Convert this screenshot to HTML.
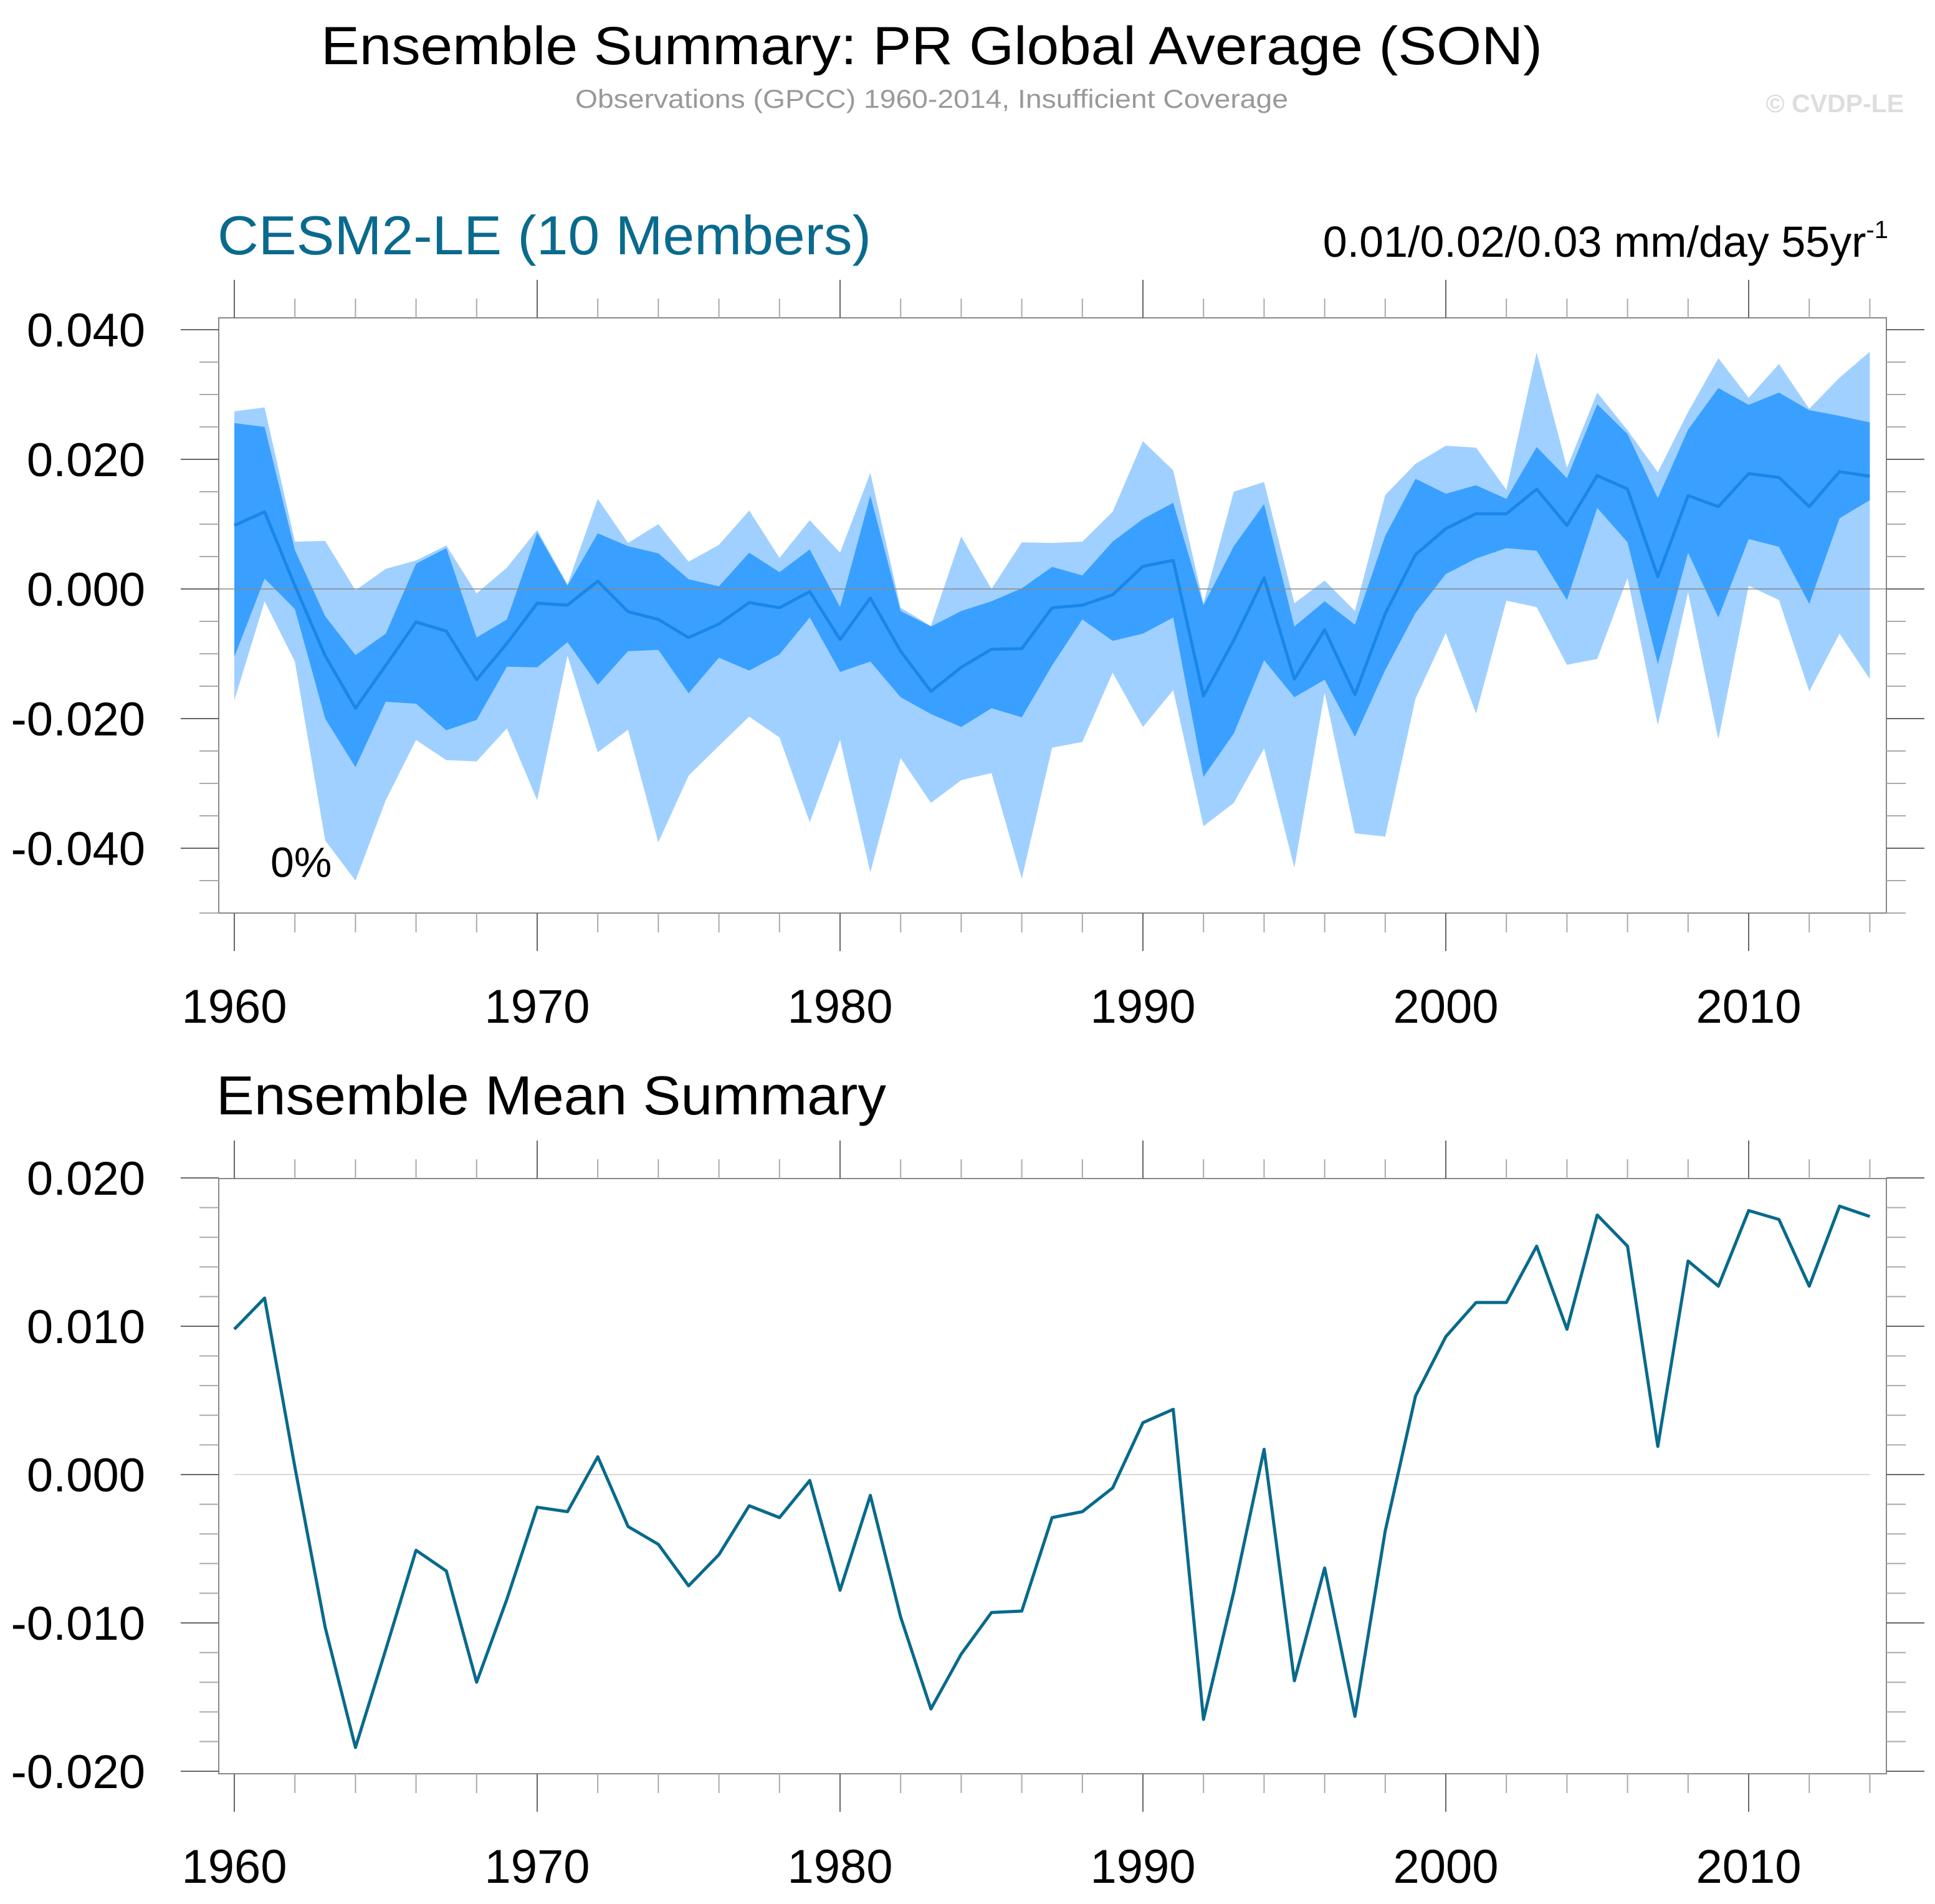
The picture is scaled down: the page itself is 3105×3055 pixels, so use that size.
<!DOCTYPE html>
<html><head><meta charset="utf-8"><style>
html,body{margin:0;padding:0;background:#fff;}
svg{display:block;font-family:"Liberation Sans",Arial,sans-serif;}
</style></head><body>
<svg id="chart" width="3105" height="3055" viewBox="0 0 3105 3055" xmlns="http://www.w3.org/2000/svg">
<text x="1495" y="103" font-size="86" text-anchor="middle" textLength="1960" lengthAdjust="spacingAndGlyphs">Ensemble Summary: PR Global Average (SON)</text>
<text x="1495" y="173" font-size="42" fill="#999" text-anchor="middle" textLength="1144" lengthAdjust="spacingAndGlyphs">Observations (GPCC) 1960-2014, Insufficient Coverage</text>
<text x="3055" y="180" font-size="41" font-weight="bold" fill="#ddd" text-anchor="end">© CVDP-LE</text>
<text x="349" y="408" font-size="88" fill="#0a6a8e" textLength="1049" lengthAdjust="spacingAndGlyphs">CESM2-LE (10 Members)</text>
<text x="3030" y="412" font-size="70" text-anchor="end">0.01/0.02/0.03 mm/day 55yr<tspan dy="-30" font-size="40">-1</tspan></text>
<text x="347" y="1788" font-size="88" textLength="1075" lengthAdjust="spacingAndGlyphs">Ensemble Mean Summary</text>
<g id="p1"></g>
<g id="p2"></g>
</svg>
<script>
const years = [];
for (let y = 1960; y <= 2014; y++) years.push(y);
const meanVals = [0.0098,0.0119,0.0005,-0.0103,-0.0184,-0.0118,-0.0051,-0.0065,-0.0140,-0.0084,
-0.0022,-0.0025,0.0012,-0.0035,-0.0047,-0.0075,-0.0054,-0.0021,-0.0029,-0.0004,
-0.0078,-0.0014,-0.0096,-0.0158,-0.0121,-0.0093,-0.0092,-0.0029,-0.0025,-0.0009,
0.0035,0.0044,-0.0165,-0.0079,0.0017,-0.0139,-0.0063,-0.0163,-0.0038,0.0053,
0.0093,0.0116,0.0116,0.0154,0.0098,0.0175,0.0154,0.0019,0.0144,0.0127,
0.0178,0.0172,0.0127,0.0181,0.0174];
const outerUpper = [0.0274,0.0280,0.0073,0.0074,-0.0002,0.0031,0.0044,0.0067,-0.0007,0.0033,
0.0091,0.0007,0.0139,0.0071,0.0100,0.0042,0.0068,0.0121,0.0048,0.0106,
0.0056,0.0179,-0.0029,-0.0057,0.0081,0.0000,0.0072,0.0071,0.0073,0.0119,
0.0228,0.0183,-0.0022,0.0150,0.0165,-0.0022,0.0013,-0.0034,0.0145,0.0193,
0.0221,0.0218,0.0153,0.0365,0.0187,0.0303,0.0245,0.0180,0.0273,0.0356,
0.0295,0.0347,0.0278,0.0326,0.0366];
const innerUpper = [0.0256,0.0250,0.0060,-0.0042,-0.0102,-0.0069,0.0039,0.0063,-0.0075,-0.0047,
0.0087,0.0005,0.0086,0.0066,0.0055,0.0015,0.0004,0.0056,0.0026,0.0061,
-0.0028,0.0144,-0.0034,-0.0058,-0.0034,-0.0019,0.0001,0.0034,0.0021,0.0073,
0.0108,0.0133,-0.0025,0.0066,0.0131,-0.0058,-0.0019,-0.0055,0.0082,0.0170,
0.0147,0.0160,0.0139,0.0219,0.0171,0.0285,0.0239,0.0140,0.0246,0.0310,
0.0284,0.0303,0.0276,0.0267,0.0257];
const innerLower = [-0.0105,0.0016,-0.0031,-0.0200,-0.0275,-0.0174,-0.0177,-0.0218,-0.0202,-0.0120,
-0.0121,-0.0082,-0.0148,-0.0096,-0.0094,-0.0161,-0.0106,-0.0126,-0.0101,-0.0044,
-0.0128,-0.0112,-0.0167,-0.0193,-0.0213,-0.0184,-0.0198,-0.0118,-0.0047,-0.0080,
-0.0069,-0.0044,-0.0290,-0.0223,-0.0110,-0.0167,-0.0140,-0.0228,-0.0125,-0.0037,
0.0023,0.0047,0.0063,0.0059,-0.0017,0.0125,0.0072,-0.0116,0.0056,-0.0044,
0.0077,0.0065,-0.0023,0.0109,0.0137];
const outerLower = [-0.0172,-0.0019,-0.0112,-0.0388,-0.0450,-0.0326,-0.0233,-0.0264,-0.0266,-0.0215,
-0.0326,-0.0103,-0.0252,-0.0217,-0.0391,-0.0288,-0.0242,-0.0197,-0.0229,-0.0360,
-0.0233,-0.0437,-0.0261,-0.0330,-0.0295,-0.0284,-0.0447,-0.0245,-0.0236,-0.0129,
-0.0213,-0.0156,-0.0366,-0.0330,-0.0246,-0.0430,-0.0160,-0.0377,-0.0382,-0.0169,
-0.0068,-0.0192,-0.0018,-0.0028,-0.0117,-0.0108,0.0017,-0.0210,-0.0005,-0.0232,
0.0005,-0.0017,-0.0158,-0.0069,-0.0139];
const p1Ticks = [0.04,0.02,0,-0.02,-0.04];
const p1TickLabels = ["0.040","0.020","0.000","-0.020","-0.040"];
const p2Ticks = [0.02,0.01,0,-0.01,-0.02];
const p2TickLabels = ["0.020","0.010","0.000","-0.010","-0.020"];
const xTicks = [1960,1970,1980,1990,2000,2010];

const NS = "http://www.w3.org/2000/svg";
function mk(parent, tag, attrs) {
  const e = document.createElementNS(NS, tag);
  for (const k in attrs) e.setAttribute(k, attrs[k]);
  parent.appendChild(e);
  return e;
}
const xScale = yr => 376 + (yr - 1960) * 48.6;
const FL = 351, FR = 3027;

function axes(g, top, bot, yScale, ymin, ymax, minorStep, ticks, labels, xLabY) {
  const fr = mk(g, 'rect', {x: FL, y: top, width: FR - FL, height: bot - top, fill: 'none', stroke: '#888', 'stroke-width': 2});
  
  
  const n = Math.round((ymax - ymin) / minorStep);
  for (let i = 0; i <= n; i++) {
    const v = ymin + i * minorStep;
    const y = yScale(v);
    if (y < top - 1 || y > bot + 1) continue;
    const major = ticks.some(t => Math.abs(t - v) < 1e-9);
    const len = major ? 61 : 31;
    const l = mk(g, 'line', {x1: FL - len, x2: FL, y1: y, y2: y, stroke: major ? '#666' : '#aaa', 'stroke-width': 2});
    
    
    const r = mk(g, 'line', {x1: FR, x2: FR + len, y1: y, y2: y, stroke: major ? '#666' : '#aaa', 'stroke-width': 2});
    
    
  }
  ticks.forEach((t, i) => {
    const tx = mk(g, 'text', {x: 233, y: yScale(t) + 27, 'font-size': 76, 'text-anchor': 'end'});
    tx.textContent = labels[i];
    
    
  });
  for (let yr = 1960; yr <= 2014; yr += 2) {
    const x = xScale(yr);
    const major = yr % 10 === 0;
    const len = major ? 61 : 31;
    const a = mk(g, 'line', {x1: x, x2: x, y1: top - len, y2: top, stroke: major ? '#666' : '#aaa', 'stroke-width': 2});
    
    
    const b = mk(g, 'line', {x1: x, x2: x, y1: bot, y2: bot + len, stroke: major ? '#666' : '#aaa', 'stroke-width': 2});
    
    
  }
  xTicks.forEach(t => {
    const tx = mk(g, 'text', {x: xScale(t), y: xLabY, 'font-size': 76, 'text-anchor': 'middle'});
    tx.textContent = String(t);
    
    
  });
}
function bandPath(up, lo, ys) {
  let d = '';
  years.forEach((yr, i) => { d += (i ? 'L' : 'M') + xScale(yr).toFixed(1) + ',' + ys(up[i]).toFixed(1); });
  for (let i = years.length - 1; i >= 0; i--) d += 'L' + xScale(years[i]).toFixed(1) + ',' + ys(lo[i]).toFixed(1);
  return d + 'Z';
}
function linePath(vals, ys) {
  return years.map((yr, i) => (i ? 'L' : 'M') + xScale(yr).toFixed(1) + ',' + ys(vals[i]).toFixed(1)).join('');
}

const p1 = document.getElementById('p1');
const y1 = v => 945 - v * 10400;
axes(p1, 510, 1465, y1, -0.05, 0.04, 0.005, p1Ticks, p1TickLabels, 1641);
const ob = mk(p1, 'path', {d: bandPath(outerUpper, outerLower, y1), fill: '#a0d0ff'});


const ib = mk(p1, 'path', {d: bandPath(innerUpper, innerLower, y1), fill: '#3aa0ff'});


const z1 = mk(p1, 'line', {x1: FL, x2: FR, y1: y1(0), y2: y1(0), stroke: '#888', 'stroke-width': 1.5});


const m1 = mk(p1, 'path', {d: linePath(meanVals, y1), fill: 'none', stroke: '#1a86ea', 'stroke-width': 5, 'stroke-linejoin': 'round'});


const pct = mk(p1, 'text', {x: 434, y: 1407, 'font-size': 68});
pct.textContent = '0%';



const p2 = document.getElementById('p2');
const y2 = v => 2366 - v * 23800;
axes(p2, 1891, 2846, y2, -0.02, 0.02, 0.002, p2Ticks, p2TickLabels, 3021);
const z2 = mk(p2, 'line', {x1: xScale(1960), x2: xScale(2014), y1: y2(0), y2: y2(0), stroke: '#ccc', 'stroke-width': 1.5});


const m2 = mk(p2, 'path', {d: linePath(meanVals, y2), fill: 'none', stroke: '#086a8c', 'stroke-width': 5, 'stroke-linejoin': 'round'});


</script>
</body></html>
